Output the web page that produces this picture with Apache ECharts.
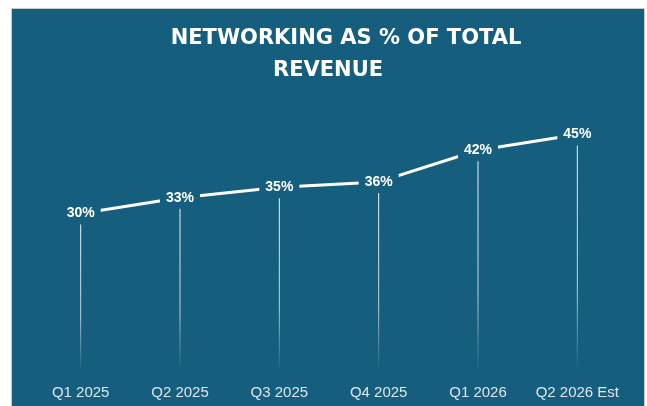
<!DOCTYPE html>
<html>
<head>
<meta charset="utf-8">
<script src="https://cdn.jsdelivr.net/npm/echarts@6/dist/echarts.min.js"></script>
<style>
  html, body { margin: 0; padding: 0; background: #ffffff; }
  .wrap { position: relative; width: 647px; height: 406px; overflow: hidden; }
  #chart {
    position: absolute; left: 11px; top: 8px;
    width: 632px; height: 397px;
    border: 1px solid #c9c9c9; border-bottom: none;
    background: #165e7e;
  }
</style>
</head>
<body>
<div class="wrap"><div id="chart"></div></div>
<script>
// 季度
const quarters = ['Q1 2025', 'Q2 2025', 'Q3 2025', 'Q4 2025', 'Q1 2026', 'Q2 2026 Est'];
// 网络业务占总收入比例 (%)
const shareValues = [30, 33, 35, 36, 42, 45];
const titleLines = ['NETWORKING AS % OF TOTAL', 'REVENUE'];

const panelColor = '#165e7e';

const option = {
  backgroundColor: panelColor,
  animation: false,
  graphic: [
    {
      type: 'text', x: 334, y: 30,
      style: { text: titleLines[0], fill: '#ffffff', font: 'bold 21px "DejaVu Sans"', textAlign: 'center', textVerticalAlign: 'middle' }
    },
    {
      type: 'text', x: 316, y: 62,
      style: { text: titleLines[1], fill: '#ffffff', font: 'bold 21px "DejaVu Sans"', textAlign: 'center', textVerticalAlign: 'middle' }
    }
  ],
  grid: {
    left: 19,
    right: 17,
    top: 99,
    bottom: 34
  },
  xAxis: {
    type: 'category',
    data: quarters,
    axisLine: { show: false },
    axisTick: { show: false },
    axisLabel: {
      interval: 0,
      color: '#dde5ea',
      fontSize: 15,
      fontFamily: 'Liberation Sans',
      margin: 13
    }
  },
  yAxis: {
    type: 'value',
    min: 0,
    max: 50,
    show: false,
    splitLine: { show: false }
  },
  series: [
    {
      // 竖向引线
      type: 'bar',
      data: shareValues,
      barWidth: 1,
      silent: true,
      z: 1,
      itemStyle: {
        color: new echarts.graphic.LinearGradient(0, 0, 0, 1, [
          { offset: 0, color: 'rgba(255,255,255,0.95)' },
          { offset: 0.65, color: 'rgba(255,255,255,0.7)' },
          { offset: 1, color: 'rgba(255,255,255,0)' }
        ])
      }
    },
    {
      type: 'line',
      data: shareValues,
      z: 3,
      symbol: 'circle',
      symbolSize: 2,
      itemStyle: { color: 'rgba(0,0,0,0)' },
      lineStyle: { color: '#ffffff', width: 3 },
      label: {
        show: true,
        position: 'inside',
        formatter: '{c}%',
        color: '#ffffff',
        fontSize: 14,
        fontWeight: 'bold',
        fontFamily: 'Liberation Sans',
        backgroundColor: panelColor,
        padding: [4, 6]
      }
    }
  ]
};

const myChart = echarts.init(document.getElementById('chart'));
myChart.setOption(option);
</script>
</body>
</html>
